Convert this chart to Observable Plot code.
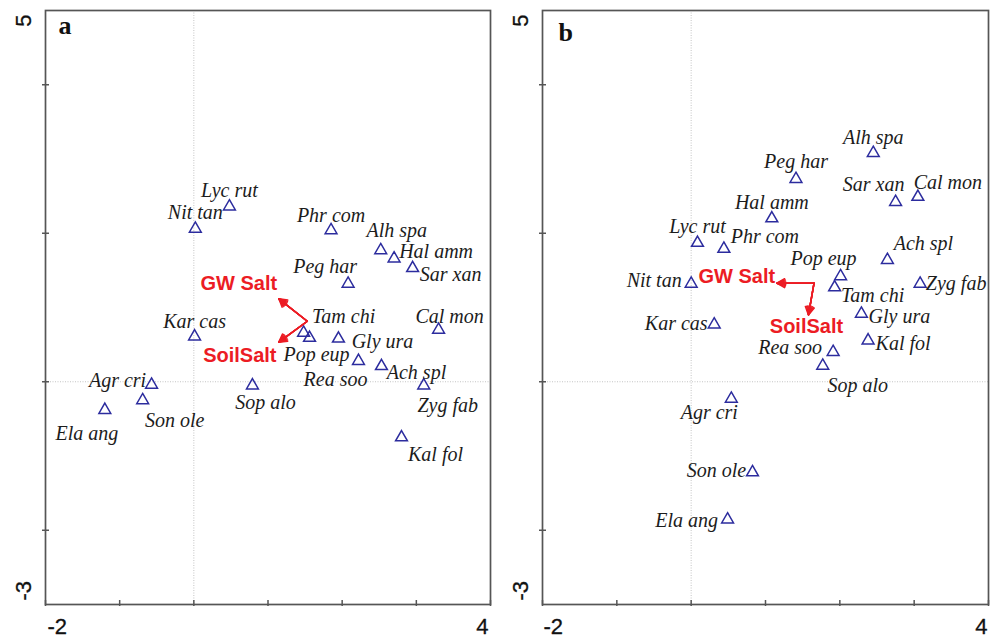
<!DOCTYPE html>
<html>
<head>
<meta charset="utf-8">
<script src="https://cdn.jsdelivr.net/npm/d3@7"></script>
<script src="https://cdn.jsdelivr.net/npm/@observablehq/plot@0.6"></script>
<style>
  html, body { margin: 0; padding: 0; background: #fff; }
  #wrap { position: relative; width: 991px; height: 638px; overflow: hidden; }
  #wrap > div { position: absolute; top: 0; }
</style>
</head>
<body>
<div id="wrap"><div id="pa" style="left:0"></div><div id="pb" style="left:495px"></div></div>
<script>
// ---- data ----
const species = ["Lyc rut","Nit tan","Phr com","Alh spa","Hal amm","Sar xan","Peg har","Tam chi","Pop eup","Gly ura",
                 "Kar cas","Cal mon","Rea soo","Ach spl","Agr cri","Son ole","Ela ang","Sop alo","Zyg fab","Kal fol"];
const aX = [0.48, 0.02, 1.85, 2.52, 2.70, 2.95, 2.08, 1.48, 1.56, 1.95, 0.01, 3.30, 2.22, 2.53, -0.57, -0.69, -1.20, 0.79, 3.10, 2.80];
const aY = [2.36, 2.06, 2.04, 1.77, 1.66, 1.53, 1.32, 0.66, 0.59, 0.58, 0.61, 0.70, 0.28, 0.21, -0.04, -0.25, -0.38, -0.05, -0.05, -0.75];
const bX = [0.085, 0.0, 0.44, 2.45, 1.085, 2.75, 1.41, 1.93, 2.01, 2.29, 0.31, 3.05, 1.91, 2.64, 0.54, 0.825, 0.49, 1.77, 3.08, 2.38];
const bY = [1.87, 1.32, 1.79, 3.08, 2.20, 2.42, 2.73, 1.27, 1.42, 0.915, 0.77, 2.49, 0.40, 1.64, -0.23, -1.22, -1.855, 0.215, 1.32, 0.556];

const envNames = ["GW Salt", "SoilSalt"];
const aEnvOrigin = [1.53, 0.815];
const aEnvX = [1.146, 1.146];
const aEnvY = [1.117, 0.533];
const bEnvOrigin = [1.653, 1.327];
const bEnvX = [1.152, 1.578];
const bEnvY = [1.327, 0.90];

const xDomain = [-2, 4];
const yDomain = [-3, 5];
const xTicks = [-2, -1, 0, 1, 2, 3, 4];
const yTicks = [-2, 0, 2, 4];
const xTickLabels = ["-2", "4"];
const yTickLabels = ["5", "-3"];
const panelLetters = ["a", "b"];

// ---- label placement (pixel offsets, not data) ----
const aLabelOff = [[0,-16],[0,-16],[0,-15],[16,-20],[42,-7],[38,6],[-23,-17],[40,-16],[7,17],[44,3],
                   [0,-15],[11,-13],[-23,19],[35,6],[-34,-4],[32,20],[-18,24],[13,17],[24,20],[34,17]];
const bLabelOff = [[0,-16],[-37,-3],[41,-12],[0,-15],[0,-16],[-22,-17],[0,-17],[38,8],[-17,-18],[38,3],
                   [-38,-1],[30,-14],[-43,-4],[36,-16],[-22,14],[-36,-2],[-41,1],[35,20],[36,0],[35,3]];
const aEnvOff = [[-40,-15],[-39,13]];
const bEnvOff = [[-40,-7],[-2,12]];

const RED = "#ec1c24";
const BLUE = "#2c2c9e";
const FRAME = "#555";

function panel(cfg) {
  const W = cfg.width, H = 638;
  const mt = 10, mb = 34, ml = cfg.ml, mr = cfg.mr;
  const pw = W - ml - mr, ph = H - mt - mb;
  const idx = species.map((_, i) => i);
  const envIdx = envNames.map((_, i) => i);
  const tickFont = {fontFamily: "Liberation Sans, Arial, sans-serif", fontSize: 22, fill: "#111", stroke: "#111", strokeWidth: 0.3};
  const marks = [
    Plot.ruleX([0], {stroke: "#c4c4c4", strokeWidth: 1, strokeDasharray: "1,1.5"}),
    Plot.ruleY([0], {stroke: "#c4c4c4", strokeWidth: 1, strokeDasharray: "1,1.5"}),
    Plot.tickX(xTicks, {x: d => d, insetTop: ph - 4, insetBottom: -2, stroke: FRAME, strokeWidth: 1.5}),
    Plot.tickY(yTicks, {y: d => d, insetRight: pw - 4, insetLeft: -3, stroke: FRAME, strokeWidth: 1.5}),
    Plot.frame({stroke: FRAME, strokeWidth: 1.7}),
    // tick labels
    Plot.text([xTickLabels[0]], {x: xDomain[0], y: yDomain[0], text: d => d, textAnchor: "start", lineAnchor: "bottom",
      dx: cfg.xlabDx[0], dy: 29, ...tickFont}),
    Plot.text([xTickLabels[1]], {x: xDomain[1], y: yDomain[0], text: d => d, textAnchor: "end", lineAnchor: "bottom",
      dx: cfg.xlabDx[1], dy: 29, ...tickFont}),
    Plot.text([yTickLabels[0]], {x: xDomain[0], y: yDomain[1], text: d => d, rotate: -90, textAnchor: "end", lineAnchor: "middle",
      dx: -22, dy: 4, ...tickFont}),
    Plot.text([yTickLabels[1]], {x: xDomain[0], y: yDomain[0], text: d => d, rotate: -90, textAnchor: "start", lineAnchor: "middle",
      dx: -22, dy: -4, ...tickFont}),
    // panel letter
    Plot.text([cfg.letter], {frameAnchor: "top-left", text: d => d, textAnchor: "start", lineAnchor: "bottom",
      dx: cfg.letterDx, dy: cfg.letterDy, fontFamily: "Liberation Serif, Times New Roman, serif", fontWeight: "bold", fontSize: 26, fill: "#111"}),
    // species points
    Plot.dot(idx, {x: i => cfg.X[i], y: i => cfg.Y[i], symbol: "triangle", r: 4.4, stroke: BLUE, strokeWidth: 1.5, fill: "none"}),
    // species labels
    ...idx.map(i => Plot.text([i], {x: j => cfg.X[j], y: j => cfg.Y[j], text: j => species[j],
      dx: cfg.off[i][0], dy: cfg.off[i][1], textAnchor: "middle", lineAnchor: "middle",
      fontFamily: "Liberation Serif, Times New Roman, serif", fontStyle: "italic", fontSize: 20, fill: "#1c1c1c"})),
    // environmental arrows (stacked heads give a filled look)
    ...[60, 45, 30, 15, 1].map(a => Plot.arrow(envIdx, {x1: cfg.O[0], y1: cfg.O[1], x2: i => cfg.EX[i], y2: i => cfg.EY[i],
      stroke: RED, strokeWidth: 1.5, headAngle: a, headLength: 9})),
    ...envIdx.map(i => Plot.text([i], {x: j => cfg.EX[j], y: j => cfg.EY[j], text: j => envNames[j],
      dx: cfg.eoff[i][0], dy: cfg.eoff[i][1], textAnchor: "middle", lineAnchor: "middle",
      fontFamily: "Liberation Sans, Arial, sans-serif", fontWeight: "bold", fontSize: 20, fill: RED}))
  ];
  return Plot.plot({
    width: W, height: H,
    marginTop: mt, marginBottom: mb, marginLeft: ml, marginRight: mr,
    x: {domain: xDomain, axis: null},
    y: {domain: yDomain, axis: null},
    style: {background: "white", overflow: "visible"},
    marks
  });
}

document.getElementById("pa").appendChild(panel({
  width: 495, ml: 45, mr: 5, letter: panelLetters[0], letterDx: 13, letterDy: 23,
  X: aX, Y: aY, off: aLabelOff, O: aEnvOrigin, EX: aEnvX, EY: aEnvY, eoff: aEnvOff, xlabDx: [2, -2]
}));
document.getElementById("pb").appendChild(panel({
  width: 496, ml: 47, mr: 3, letter: panelLetters[1], letterDx: 16, letterDy: 30,
  X: bX, Y: bY, off: bLabelOff, O: bEnvOrigin, EX: bEnvX, EY: bEnvY, eoff: bEnvOff, xlabDx: [1, -1]
}));
</script>
</body>
</html>
